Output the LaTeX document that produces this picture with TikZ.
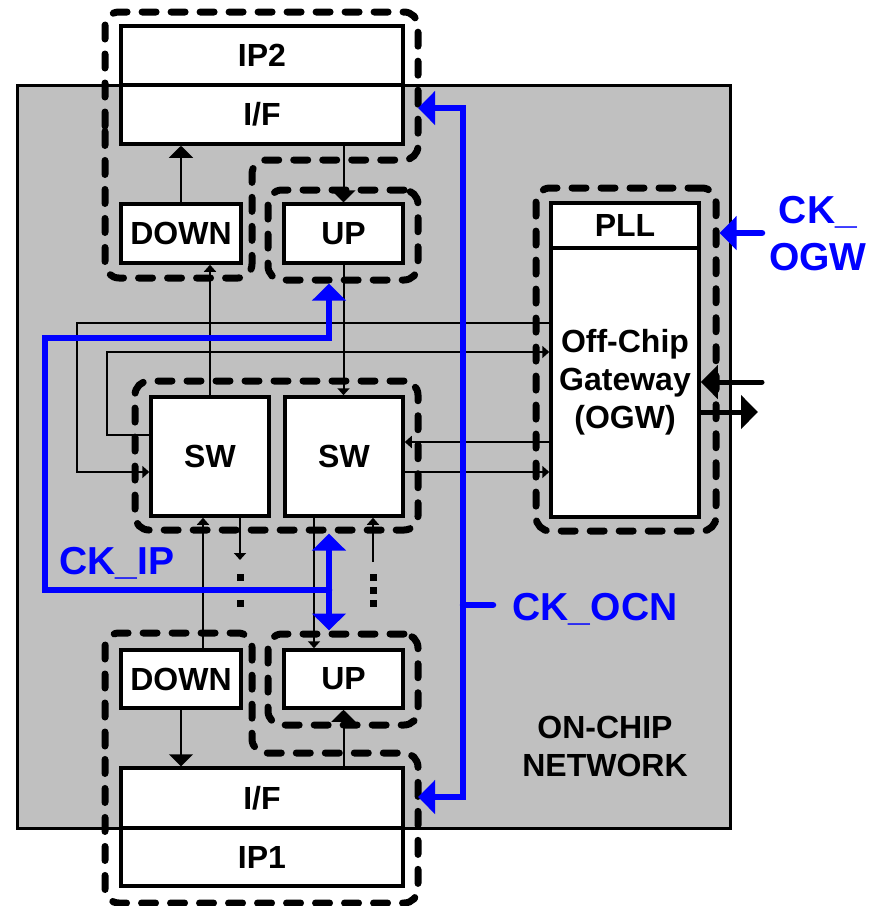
\documentclass[tikz,border=0pt]{standalone}
\usepackage{fontspec}
\setmainfont{Liberation Sans}
\usetikzlibrary{arrows.meta,positioning}
\definecolor{ocGray}{RGB}{192,192,192}
\definecolor{ocBlue}{RGB}{  0,  0,255}
\newcommand\boxfont{\fontsize{32}{38}\selectfont\bfseries}
\newcommand\clkfont{\fontsize{39}{47}\selectfont\bfseries}

\begin{document}
\begin{tikzpicture}[x=1pt,y=-1pt,
  every node/.style={font=\boxfont},
  blk/.style={draw,line width=3.5pt,fill=white,inner sep=0pt,align=center},
  grp/.style={draw,line width=7pt,dash pattern=on 14pt off 15pt,
              line cap=round,rounded corners=14pt},
  link/.style={line width=2pt,-{Triangle[length=7pt,width=12pt]}},
  biglink/.style={line width=2pt,-{Triangle[length=12pt,width=24pt]}},
  clk/.style={draw=ocBlue,line width=6.5pt,line cap=round,
              >={Triangle[length=17pt,width=33pt]}},
  port/.style={line width=5pt,line cap=round,-{Triangle[length=17pt,width=33pt]}},
  clkname/.style={font=\clkfont,text=ocBlue,align=center}
]
\useasboundingbox (0,0) rectangle (874,906);
% on-chip network area
\node[draw,line width=3pt,fill=ocGray,minimum width=713,minimum height=743] (chip) at (373.5,456.5) {};
% blocks
\node[blk,minimum width=282,minimum height=59]  (ip2) at (262,55.5)  {IP2};
\node[blk,minimum width=282,minimum height=59]  (ift) at (262,114.5) {I/F};
\node[blk,minimum width=120,minimum height=59]  (dnt) at (181,233.5) {DOWN};
\node[blk,minimum width=119,minimum height=59]  (upt) at (343.5,233.5) {UP};
\node[blk,minimum width=118,minimum height=119] (sw1) at (210,456.5) {SW};
\node[blk,minimum width=118,minimum height=119] (sw2) at (344,456.5) {SW};
\node[blk,minimum width=120,minimum height=58]  (dnb) at (181,679)   {DOWN};
\node[blk,minimum width=119,minimum height=58]  (upb) at (343.5,679) {UP};
\node[blk,minimum width=282,minimum height=60]  (ifb) at (262,798)   {I/F};
\node[blk,minimum width=282,minimum height=58]  (ip1) at (262,857)   {IP1};
\node[blk,minimum width=148,minimum height=45]  (pll) at (625,225.5) {PLL};
\node[blk,minimum width=148,minimum height=269] (ogw) at (625,382.5) {Off-Chip\\Gateway\\(OGW)};
% links between blocks
\draw[biglink] (dnt.north) -- (dnt.north |- ift.south);
\draw[biglink] (ift.south -| upt.north) -- (upt.north);
\draw[link] (sw1.north) -- (sw1.north |- dnt.south);
\draw[link] (upt.south) -- (upt.south |- sw2.north);
\draw[link] (dnb.north -| 203,0) -- (sw1.south -| 203,0);
\draw[link] (sw2.south -| 314,0) -- (upb.north -| 314,0);
\draw[biglink] (dnb.south) -- (dnb.south |- ifb.north);
\draw[biglink] (ifb.north -| upb.south) -- (upb.south);
\coordinate (dotl) at (240,560);
\coordinate (dotr) at (373,562);
\draw[link] (sw1.south -| dotl) -- (dotl);
\draw[link] (dotr) -- (sw2.south -| dotr);
\foreach \y in {577,603}     \fill (240,\y) +(-3.5,-3.5) rectangle +(3.5,3.5);
\foreach \y in {577,590,603} \fill (373,\y) +(-3.5,-3.5) rectangle +(3.5,3.5);
% links to the gateway
\draw[link] (ogw.west |- 0,323) -| (77,472) -- (sw1.west |- 0,472);
\draw[link] (sw1.west |- 0,435) -| (107,352) -- (ogw.west |- 0,352);
\draw[link] (ogw.west |- 0,442) -- (sw2.east |- 0,442);
\draw[link] (sw2.east |- 0,472) -- (ogw.west |- 0,472);
% clock domains
\draw[grp] (105,140) -- (105,12) -- (418,12) coordinate (gtr) -- (418,160) -- (252,160)
           -- (252,278) -- (105,278) -- cycle;
\node[grp,minimum width=150,minimum height=90]  (gupt) at (343,235)   {};
\node[grp,minimum width=283,minimum height=149] (gsw)  at (276.5,455.5) {};
\node[grp,minimum width=150,minimum height=91]  (gupb) at (343,679.5) {};
\draw[grp] (105,760) -- (105,633) -- (252,633) -- (252,753) -- (418,753) coordinate (gbr)
           -- (418,903) -- (105,903) -- cycle;
\node[grp,minimum width=180,minimum height=343] (gogw) at (626,359.5) {};
% clocks
\coordinate (ckip) at (329,590);
\draw[clk,->] (ckip) -- (45,590) -- (45,338) -- (329,338) -- (gupt.south -| ckip);
\draw[clk,<->] (gsw.south -| ckip) -- (gupb.north -| ckip);
\coordinate (ocn) at (463,605);
\draw[clk,->] (ocn) |- (gtr |- 0,108);
\draw[clk,->] (ocn) |- (gbr |- 0,797);
\draw[clk] (ocn) -- (493,605);
\coordinate (ogwck) at (762,233);
\draw[clk,->] (ogwck) -- (gogw.east |- ogwck);
% off-chip ports
\coordinate (pin)  at (762,382);
\coordinate (pout) at (758,412);
\draw[port] (pin) -- (ogw.east |- pin);
\draw[port] (ogw.east |- pout) -- (pout);
% labels
\node[clkname] (iplbl)  at (117,563) {CK\_IP};
\node[clkname] (ocnlbl) at (595,609) {CK\_OCN};
\node[clkname] (ogwlbl) at (818,234) {CK\_\\OGW};
\node[align=center] (chiplbl) at (605,746) {ON-CHIP\\NETWORK};
\end{tikzpicture}
\end{document}
